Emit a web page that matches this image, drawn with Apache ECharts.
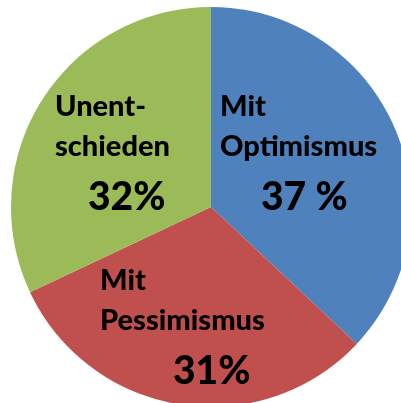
<!DOCTYPE html>
<html>
<head>
<meta charset="utf-8">
<script src="https://cdn.jsdelivr.net/npm/echarts@6/dist/echarts.min.js"></script>
<style>
  html, body { margin: 0; padding: 0; background: #fff; }
  #chart { width: 401px; height: 403px; }
</style>
</head>
<body>
<div id="chart"></div>
<script>
// Anteile in Prozent, im Uhrzeigersinn ab 12 Uhr
const categories = ["Mit\nOptimismus", "Mit\nPessimismus", "Unent-\nschieden"];
const values = [37, 31, 32];
const percentLabels = ["37 %", "31%", "32%"];
const colors = ["#4F81BD", "#C0504D", "#9BBB59"];

// Lage der Beschriftungen (links oben) und Einrückung der Prozentzahl
const labelPos = [[220, 87], [100, 261], [55, 87]];
const pctIndent = [41, 73, 33];

const chart = echarts.init(document.getElementById("chart"));

const option = {
  animation: false,
  backgroundColor: "#ffffff",
  series: [
    {
      type: "pie",
      center: [211, 207],
      radius: [0, 200],
      startAngle: 90,
      clockwise: true,
      silent: true,
      itemStyle: { borderWidth: 0 },
      label: {
        show: true,
        position: "inside",
        fontFamily: "Lato",
        fontWeight: 900,
        color: "#000",
        formatter: function (p) {
          return "{name|" + p.name + "}\n{pct|" + percentLabels[p.dataIndex] + "}";
        },
      },
      labelLine: { show: false },
      labelLayout: function (params) {
        const pos = labelPos[params.dataIndex];
        return { x: pos[0], y: pos[1], align: "left", verticalAlign: "top" };
      },
      data: categories.map(function (name, i) {
        return {
          name: name,
          value: values[i],
          itemStyle: { color: colors[i] },
          label: {
            rich: {
              name: { fontFamily: "Lato", fontWeight: 900, fontSize: 29, lineHeight: 40, color: "#000" },
              pct: { fontFamily: "Lato", fontWeight: 900, fontSize: 39, lineHeight: 60, color: "#000", padding: [0, 0, 0, pctIndent[i]] },
            },
          },
        };
      }),
    },
  ],
};

chart.setOption(option);
</script>
</body>
</html>
